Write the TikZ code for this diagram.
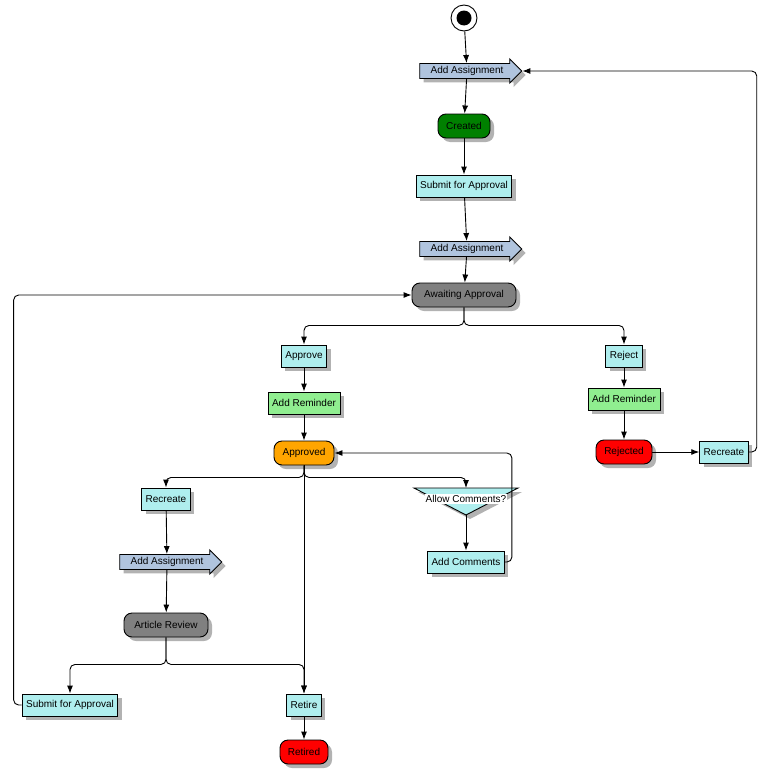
\documentclass[tikz,border=0pt]{standalone}
\usepackage{fontspec}
\setmainfont{Liberation Sans}
\usetikzlibrary{shapes.arrows,shadows,arrows.meta}
\definecolor{boxcyan}{HTML}{AFEEEE}
\definecolor{boxgreen}{HTML}{90EE90}
\definecolor{assign}{HTML}{B0C4DE}
\definecolor{darkgreen}{HTML}{008000}
\definecolor{approvedorange}{HTML}{FFA500}
\tikzset{
  every picture/.style={line width=0.9pt},
  shade/.style={drop shadow={shadow xshift=4pt,shadow yshift=-4pt,fill=black!30,opacity=1}},
  act/.style={draw,fill=boxcyan,shade,font=\fontsize{10}{12}\selectfont,inner sep=4pt,minimum height=22pt},
  remind/.style={act,fill=boxgreen},
  state/.style={draw,rounded corners=8pt,shade,font=\fontsize{10}{12}\selectfont,minimum height=24pt,inner sep=4pt},
  assignment/.style={draw,fill=assign,shade,single arrow,single arrow head extend=4pt,
    single arrow head indent=0pt,minimum height=102pt,minimum width=24pt,inner sep=1.5pt,
    font=\fontsize{10}{12}\selectfont},
  line/.style={-{Latex[length=8pt,width=6pt]},rounded corners=5pt}
}
\begin{document}
\begin{tikzpicture}[x=1pt,y=-1pt]
  \useasboundingbox (0,0) rectangle (765,771);
  % main column
  \node[circle,draw,minimum size=26pt] (start) at (464,18) {};
  \fill (start) circle (7.5pt);
  \node[assignment] (ass1) at (467,71) {Add Assignment};
  \node[state,fill=darkgreen,minimum width=52pt] (created) at (464,126) {Created};
  \node[act] (submit) at (464,186) {Submit for Approval};
  \node[assignment] (ass2) at (467,249) {Add Assignment};
  \node[state,fill=gray,minimum width=104pt] (waiting) at (464,295) {Awaiting Approval};
  % approve / reject
  \node[act] (approve) at (304,356) {Approve};
  \node[act] (reject) at (624,356) {Reject};
  \node[remind] (remindA) at (304,403) {Add Reminder};
  \node[remind] (remindR) at (624,399) {Add Reminder};
  \node[state,fill=approvedorange,minimum width=60pt] (approved) at (304,453) {Approved};
  \node[state,fill=red,minimum width=56pt] (rejected) at (624,452) {Rejected};
  \node[act] (recreateR) at (724,452) {Recreate};
  % after approval
  \node[act] (recreateL) at (166,499) {Recreate};
  \fill[boxcyan,shade] (414,488) -- (518,488) -- (466,515) -- cycle;
  \draw (414,488) -- (518,488) -- (466,515) -- cycle;
  \coordinate (allowtop) at (466,488);
  \node[fill=white,font=\fontsize{10}{12}\selectfont,inner sep=1pt] (allow) at (466,499) {Allow Comments?};
  \coordinate (allowbot) at (466,515);
  \node[act] (comments) at (466,562) {Add Comments};
  \node[assignment] (ass3) at (167,562) {Add Assignment};
  \node[state,fill=gray,minimum width=84pt] (review) at (166,625) {Article Review};
  \node[act] (submitL) at (70,705) {Submit for Approval};
  \node[act] (retire) at (304,705) {Retire};
  \node[state,fill=red,minimum width=48pt] (retired) at (304,752) {Retired};
  % connectors
  \draw[line] (start) -- (ass1);
  \draw[line] (ass1) -- (created);
  \draw[line] (created) -- (submit);
  \draw[line] (submit) -- (ass2);
  \draw[line] (ass2) -- (waiting);
  \draw[line] (waiting.south) -- ++(0,18) -| (approve);
  \draw[line] (waiting.south) -- ++(0,18) -| (reject);
  \draw[line] (approve) -- (remindA);
  \draw[line] (reject) -- (remindR);
  \draw[line] (remindA) -- (approved);
  \draw[line] (remindR) -- (rejected);
  \draw[line] (rejected) -- (recreateR);
  \draw[line] (recreateR.east) -- ++(8,0) |- (ass1.tip);
  \draw[line] (approved.south) -- ++(0,12) -| (recreateL);
  \draw[line] (approved.south) -- ++(0,12) -| (allowtop);
  \draw[line] (approved) -- (retire);
  \draw[line] (allowbot) -- (comments);
  \draw[line] (comments.east) -- ++(7,0) |- (approved.east);
  \draw[line] (recreateL) -- (ass3);
  \draw[line] (ass3) -- (review);
  \draw[line] (review.south) -- ++(0,27) -| (submitL);
  \draw[line] (review.south) -- ++(0,27) -| (retire);
  \draw[line] (retire) -- (retired);
  \draw[line] (submitL.west) -- ++(-8,0) |- (waiting.west);
\end{tikzpicture}
\end{document}
